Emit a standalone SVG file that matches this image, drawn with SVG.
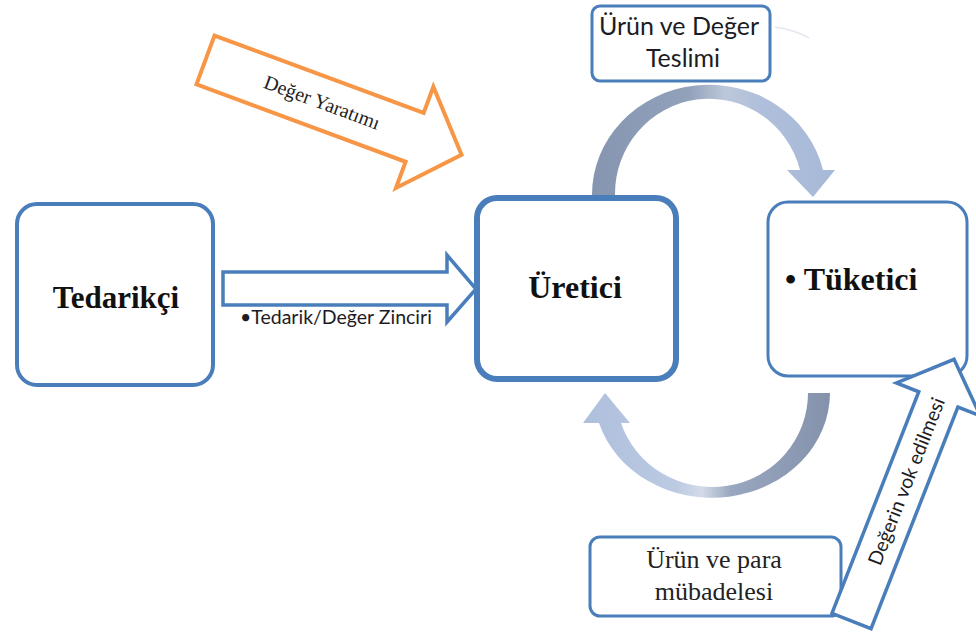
<svg xmlns="http://www.w3.org/2000/svg" width="976" height="637" viewBox="0 0 976 637">
  <defs>
    <linearGradient id="gradTop" gradientUnits="userSpaceOnUse" x1="592" y1="0" x2="835" y2="0">
      <stop offset="0" stop-color="#8595b0"/>
      <stop offset="0.4" stop-color="#93a2bb"/>
      <stop offset="0.55" stop-color="#bcc7da"/>
      <stop offset="0.7" stop-color="#afbfdb"/>
      <stop offset="1" stop-color="#a7b9d8"/>
    </linearGradient>
    <linearGradient id="gradBottom" gradientUnits="userSpaceOnUse" x1="830" y1="0" x2="583" y2="0">
      <stop offset="0" stop-color="#8492ac"/>
      <stop offset="0.4" stop-color="#98a6bf"/>
      <stop offset="0.52" stop-color="#d3dbe9"/>
      <stop offset="0.62" stop-color="#bccae2"/>
      <stop offset="1" stop-color="#aebfdd"/>
    </linearGradient>
    <style>
      .box { fill: #ffffff; stroke: #4a7ebb; }
      .main { stroke-width: 4; }
      .heavy { stroke-width: 6; }
      .thin { stroke-width: 3; }
      .serifB { font-family: "Liberation Serif", "Times New Roman", serif; font-weight: bold; fill: #111111; }
      .serif { font-family: "Liberation Serif", "Times New Roman", serif; fill: #222222; }
      .sans { font-family: Lato, "Liberation Sans", Arial, sans-serif; fill: #1c1c24; }
      .blueArrow { fill: #ffffff; stroke: #4a7ebb; stroke-width: 3.5; stroke-linejoin: miter; }
      .orangeArrow { fill: #ffffff; stroke: #f79646; stroke-width: 4; stroke-linejoin: miter; }
    </style>
  </defs>

  <!-- nodes -->
  <g id="tedarikci">
    <rect class="box main" x="17" y="204" width="196" height="181" rx="20"/>
    <text class="serifB" x="116" y="308" font-size="31" text-anchor="middle">Tedarikçi</text>
  </g>

  <g id="uretici">
    <rect class="box heavy" x="477" y="198" width="199" height="181" rx="20"/>
    <text class="serifB" x="575" y="298" font-size="32" text-anchor="middle">Üretici</text>
  </g>

  <g id="tuketici">
    <rect class="box thin" x="768" y="202" width="199" height="174" rx="20"/>
    <text class="serifB" x="785" y="290" font-size="32">• Tüketici</text>
  </g>

  <g id="teslim">
    <rect class="box thin" x="592" y="6" width="178" height="75" rx="8"/>
    <text class="sans" x="679" y="35" font-size="25" text-anchor="middle">Ürün ve Değer</text>
    <text class="sans" x="683" y="67" font-size="25" text-anchor="middle">Teslimi</text>
    <path d="M775 27 Q795 30 809 38" fill="none" stroke="#e3e7ee" stroke-width="1.5"/>
  </g>

  <g id="mubadele">
    <rect class="box thin" x="590" y="537" width="251" height="79" rx="10"/>
    <text class="serif" x="714" y="568" font-size="26" text-anchor="middle">Ürün ve para</text>
    <text class="serif" x="714" y="600" font-size="26" text-anchor="middle">mübadelesi</text>
  </g>

  <!-- connectors -->
  <g id="connectors">
    <!-- Üretici to Tüketici, over the top -->
    <path fill="url(#gradTop)" d="M592 195 A117 110 0 0 1 823 170 L835 170 L813 197 L787 170 L800 170 A94 95 0 0 0 615 195 Z"/>
    <!-- Tüketici back to Üretici, underneath -->
    <path fill="url(#gradBottom)" d="M830 393 A118 105 0 0 1 599 423 L583 423 L605 393 L630 423 L621 423 A96 94 0 0 0 808 393 Z"/>

    <!-- supply chain arrow -->
    <polygon class="blueArrow" points="223,272 447,272 447,255 476,289 447,322 447,305 223,305"/>
    <text class="sans" x="240" y="324" font-size="19.5" fill="#222">•Tedarik/Değer  Zinciri</text>

    <!-- value creation arrow -->
    <g transform="translate(205.5 60) rotate(20.3)">
      <polygon class="orangeArrow" points="0,-26 223,-26 223,-54 273,0 223,54 223,26 0,26"/>
      <text class="serif" x="124" y="6" font-size="20" text-anchor="middle" fill="#333">Değer Yaratımı</text>
    </g>

    <!-- value destruction arrow -->
    <g transform="translate(851.5 621) rotate(-68.6)">
      <polygon class="blueArrow" points="0,-21 238,-21 238,-45 281,0 238,45 238,21 0,21"/>
      <text class="sans" x="150" y="7" font-size="19.5" text-anchor="middle">Değerin vok edilmesi</text>
    </g>
  </g>
</svg>
